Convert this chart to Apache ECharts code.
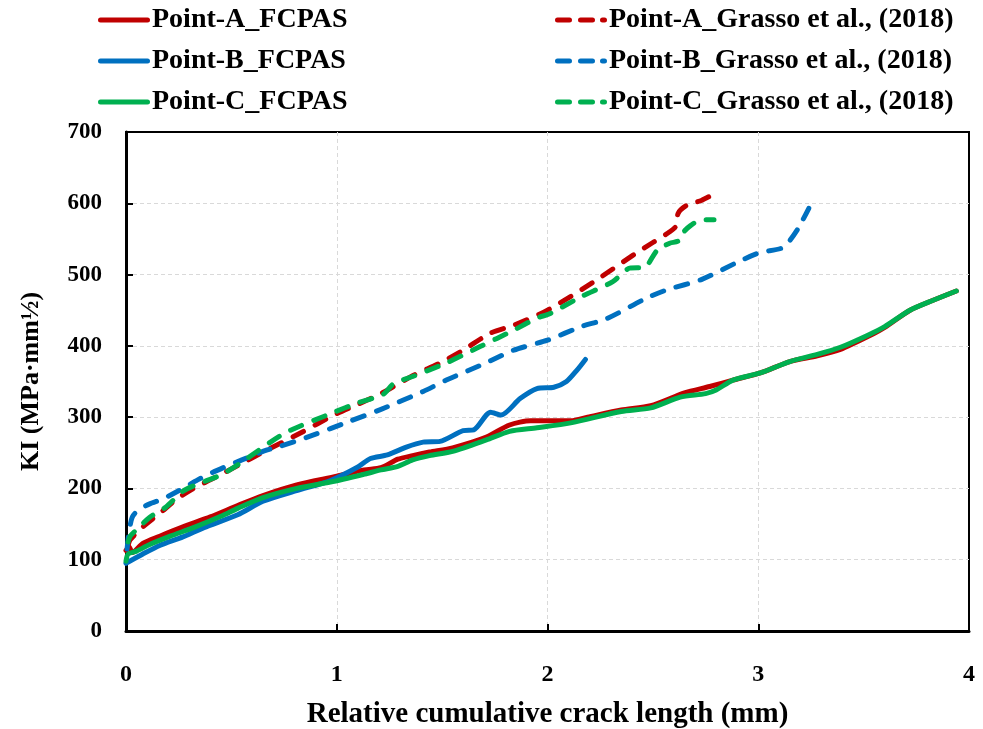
<!DOCTYPE html>
<html>
<head>
<meta charset="utf-8">
<script src="https://cdn.jsdelivr.net/npm/echarts@6/dist/echarts.min.js"></script>
<style>
html,body{margin:0;padding:0;background:#fff;}
#chart{width:983px;height:729px;}
</style>
</head>
<body>
<div id="chart"></div>
<script>
// ---- data: [relative cumulative crack length (mm), KI (MPa·mm½)] ----
const seriesNames = [
  'Point-A_FCPAS', 'Point-B_FCPAS', 'Point-C_FCPAS',
  'Point-A_Grasso et al., (2018)', 'Point-B_Grasso et al., (2018)', 'Point-C_Grasso et al., (2018)'
];
const xTicks = [0, 1, 2, 3, 4];
const yTicks = [0, 100, 200, 300, 400, 500, 600, 700];

const pointA_FCPAS = [[0,113],[0.015,118],[0.03,110],[0.08,123],[0.16,133],[0.27,146],[0.4,160],[0.53,176],[0.65,190],[0.81,205],[1.0,217],[1.13,226],[1.21,229],[1.29,241],[1.36,246],[1.44,251],[1.55,257],[1.71,272],[1.82,289],[1.92,295],[2.03,295],[2.11,295],[2.19,300],[2.35,310],[2.49,316],[2.65,334],[2.77,343],[2.88,352],[3.01,362],[3.15,378],[3.28,386],[3.39,395],[3.52,413],[3.6,426],[3.72,450],[3.83,464],[3.94,477]];
const pointB_FCPAS = [[0,95],[0.08,108],[0.16,120],[0.27,132],[0.37,145],[0.53,163],[0.65,182],[0.81,197],[0.97,211],[1.1,230],[1.16,242],[1.24,247],[1.33,258],[1.41,265],[1.49,266],[1.6,281],[1.65,282],[1.73,307],[1.78,303],[1.87,326],[1.95,340],[2.03,342],[2.09,350],[2.14,366],[2.18,381]];
const pointC_FCPAS = [[0,98],[0.01,108],[0.05,112],[0.11,121],[0.21,133],[0.32,145],[0.45,161],[0.53,172],[0.65,187],[0.81,200],[0.97,209],[1.13,220],[1.21,226],[1.29,231],[1.36,240],[1.44,246],[1.55,252],[1.71,268],[1.82,280],[1.95,285],[2.11,292],[2.35,308],[2.49,313],[2.63,328],[2.75,333],[2.8,338],[2.88,352],[3.01,362],[3.15,378],[3.28,388],[3.39,398],[3.52,415],[3.6,427],[3.72,450],[3.83,464],[3.94,477]];
const pointA_Grasso = [[0.01,120],[0.02,128],[0.08,146],[0.16,165],[0.24,185],[0.32,200],[0.4,212],[0.53,232],[0.67,254],[0.83,278],[0.98,302],[1.1,318],[1.21,333],[1.36,358],[1.49,376],[1.6,394],[1.73,418],[1.84,429],[2.0,450],[2.22,490],[2.41,528],[2.5,545],[2.58,560],[2.61,568],[2.62,586],[2.66,597],[2.73,604],[2.79,613]];
const pointB_Grasso = [[0.005,115],[0.015,140],[0.03,160],[0.06,170],[0.11,178],[0.18,186],[0.27,200],[0.34,212],[0.43,225],[0.55,240],[0.67,254],[0.73,259],[0.89,275],[1.05,293],[1.21,311],[1.41,336],[1.52,352],[1.7,375],[1.84,394],[2.0,408],[2.16,427],[2.28,438],[2.47,467],[2.57,479],[2.73,493],[2.92,520],[3.01,531],[3.11,537],[3.15,548],[3.19,565],[3.24,593]];
const pointC_Grasso = [[0.01,125],[0.02,133],[0.05,142],[0.11,159],[0.19,174],[0.27,196],[0.34,206],[0.45,219],[0.53,233],[0.75,277],[0.98,306],[1.1,320],[1.22,332],[1.27,347],[1.36,357],[1.52,376],[1.68,399],[1.84,422],[1.95,439],[2.01,445],[2.16,469],[2.31,490],[2.39,509],[2.46,510],[2.52,534],[2.58,544],[2.62,547],[2.64,558],[2.68,569],[2.73,577],[2.79,577]];

const colors = ['#C00000', '#0070C0', '#00B050'];
const FONT = '"Liberation Serif", "Times New Roman", serif';

const allData = [pointA_FCPAS, pointB_FCPAS, pointC_FCPAS, pointA_Grasso, pointB_Grasso, pointC_Grasso];

// legend icons: thick solid bar / thick dashed bar (52 x 5)
const solidIcon = 'path://M2.5,0H49.5A2.5,2.5 0 0 1 49.5,5H2.5A2.5,2.5 0 0 1 2.5,0Z';
const dashedIcon = 'path://M2.5,0H14.5A2.5,2.5 0 0 1 14.5,5H2.5A2.5,2.5 0 0 1 2.5,0Z' +
  'M25.5,0H37.5A2.5,2.5 0 0 1 37.5,5H25.5A2.5,2.5 0 0 1 25.5,0Z' +
  'M47.5,0H49.5A2.5,2.5 0 0 1 49.5,5H47.5A2.5,2.5 0 0 1 47.5,0Z';

const series = allData.map((d, i) => ({
  name: seriesNames[i],
  type: 'line',
  data: d,
  symbol: 'none',
  smooth: 0.25,
  color: colors[i % 3],
  itemStyle: { color: colors[i % 3] },
  lineStyle: {
    width: 5,
    color: colors[i % 3],
    type: i < 3 ? 'solid' : [12, 13],
    cap: 'round',
    join: 'round'
  },
  z: i < 3 ? 3 : 4
}));

const legendCommon = {
  orient: 'vertical',
  itemWidth: 52,
  itemHeight: 5,
  itemGap: 13,
  textStyle: { fontFamily: FONT, fontWeight: 'bold', fontSize: 28, color: '#000', lineHeight: 28, padding: [0, 0, 0, -3] },
  selectedMode: false
};

const chart = echarts.init(document.getElementById('chart'), null, { renderer: 'canvas' });
chart.setOption({
  backgroundColor: '#fff',
  animation: false,
  legend: [
    Object.assign({ left: 93, top: 1, data: seriesNames.slice(0, 3).map(n => ({ name: n, icon: solidIcon })) }, legendCommon),
    Object.assign({ left: 550, top: 1, data: seriesNames.slice(3).map(n => ({ name: n, icon: dashedIcon })) }, legendCommon)
  ],
  grid: {
    left: 126, right: 14, top: 132, bottom: 98,
    outerBoundsMode: 'none',
    containLabel: false,
    show: true, borderColor: '#000', borderWidth: 2, backgroundColor: 'transparent'
  },
  xAxis: {
    type: 'value',
    min: xTicks[0], max: xTicks[xTicks.length - 1], interval: 1,
    name: 'Relative cumulative crack length (mm)',
    nameLocation: 'middle',
    nameGap: 69,
    nameTextStyle: { fontFamily: FONT, fontWeight: 'bold', fontSize: 29, color: '#000' },
    axisLine: { show: true, onZero: false, lineStyle: { color: '#000', width: 3 } },
    axisTick: { show: true, inside: true, length: 7, lineStyle: { color: '#000', width: 2 } },
    axisLabel: { fontFamily: FONT, fontWeight: 'bold', fontSize: 24, color: '#000', margin: 32 },
    splitLine: { show: true, showMinLine: false, showMaxLine: false, lineStyle: { color: '#d9d9d9', type: [4, 3], width: 1 } }
  },
  yAxis: {
    type: 'value',
    min: yTicks[0], max: yTicks[yTicks.length - 1], interval: 100,
    name: 'KI (MPa·mm½)',
    nameLocation: 'middle',
    nameGap: 82,
    nameRotate: 90,
    nameTextStyle: { fontFamily: FONT, fontWeight: 'bold', fontSize: 26, color: '#000' },
    axisLine: { show: true, onZero: false, lineStyle: { color: '#000', width: 3 } },
    axisTick: { show: true, inside: true, length: 7, lineStyle: { color: '#000', width: 2 } },
    axisLabel: { fontFamily: FONT, fontWeight: 'bold', fontSize: 23, color: '#000', margin: 24 },
    splitLine: { show: true, showMinLine: false, showMaxLine: false, lineStyle: { color: '#d9d9d9', type: [4, 3], width: 1 } }
  },
  series: series
});
</script>
</body>
</html>
